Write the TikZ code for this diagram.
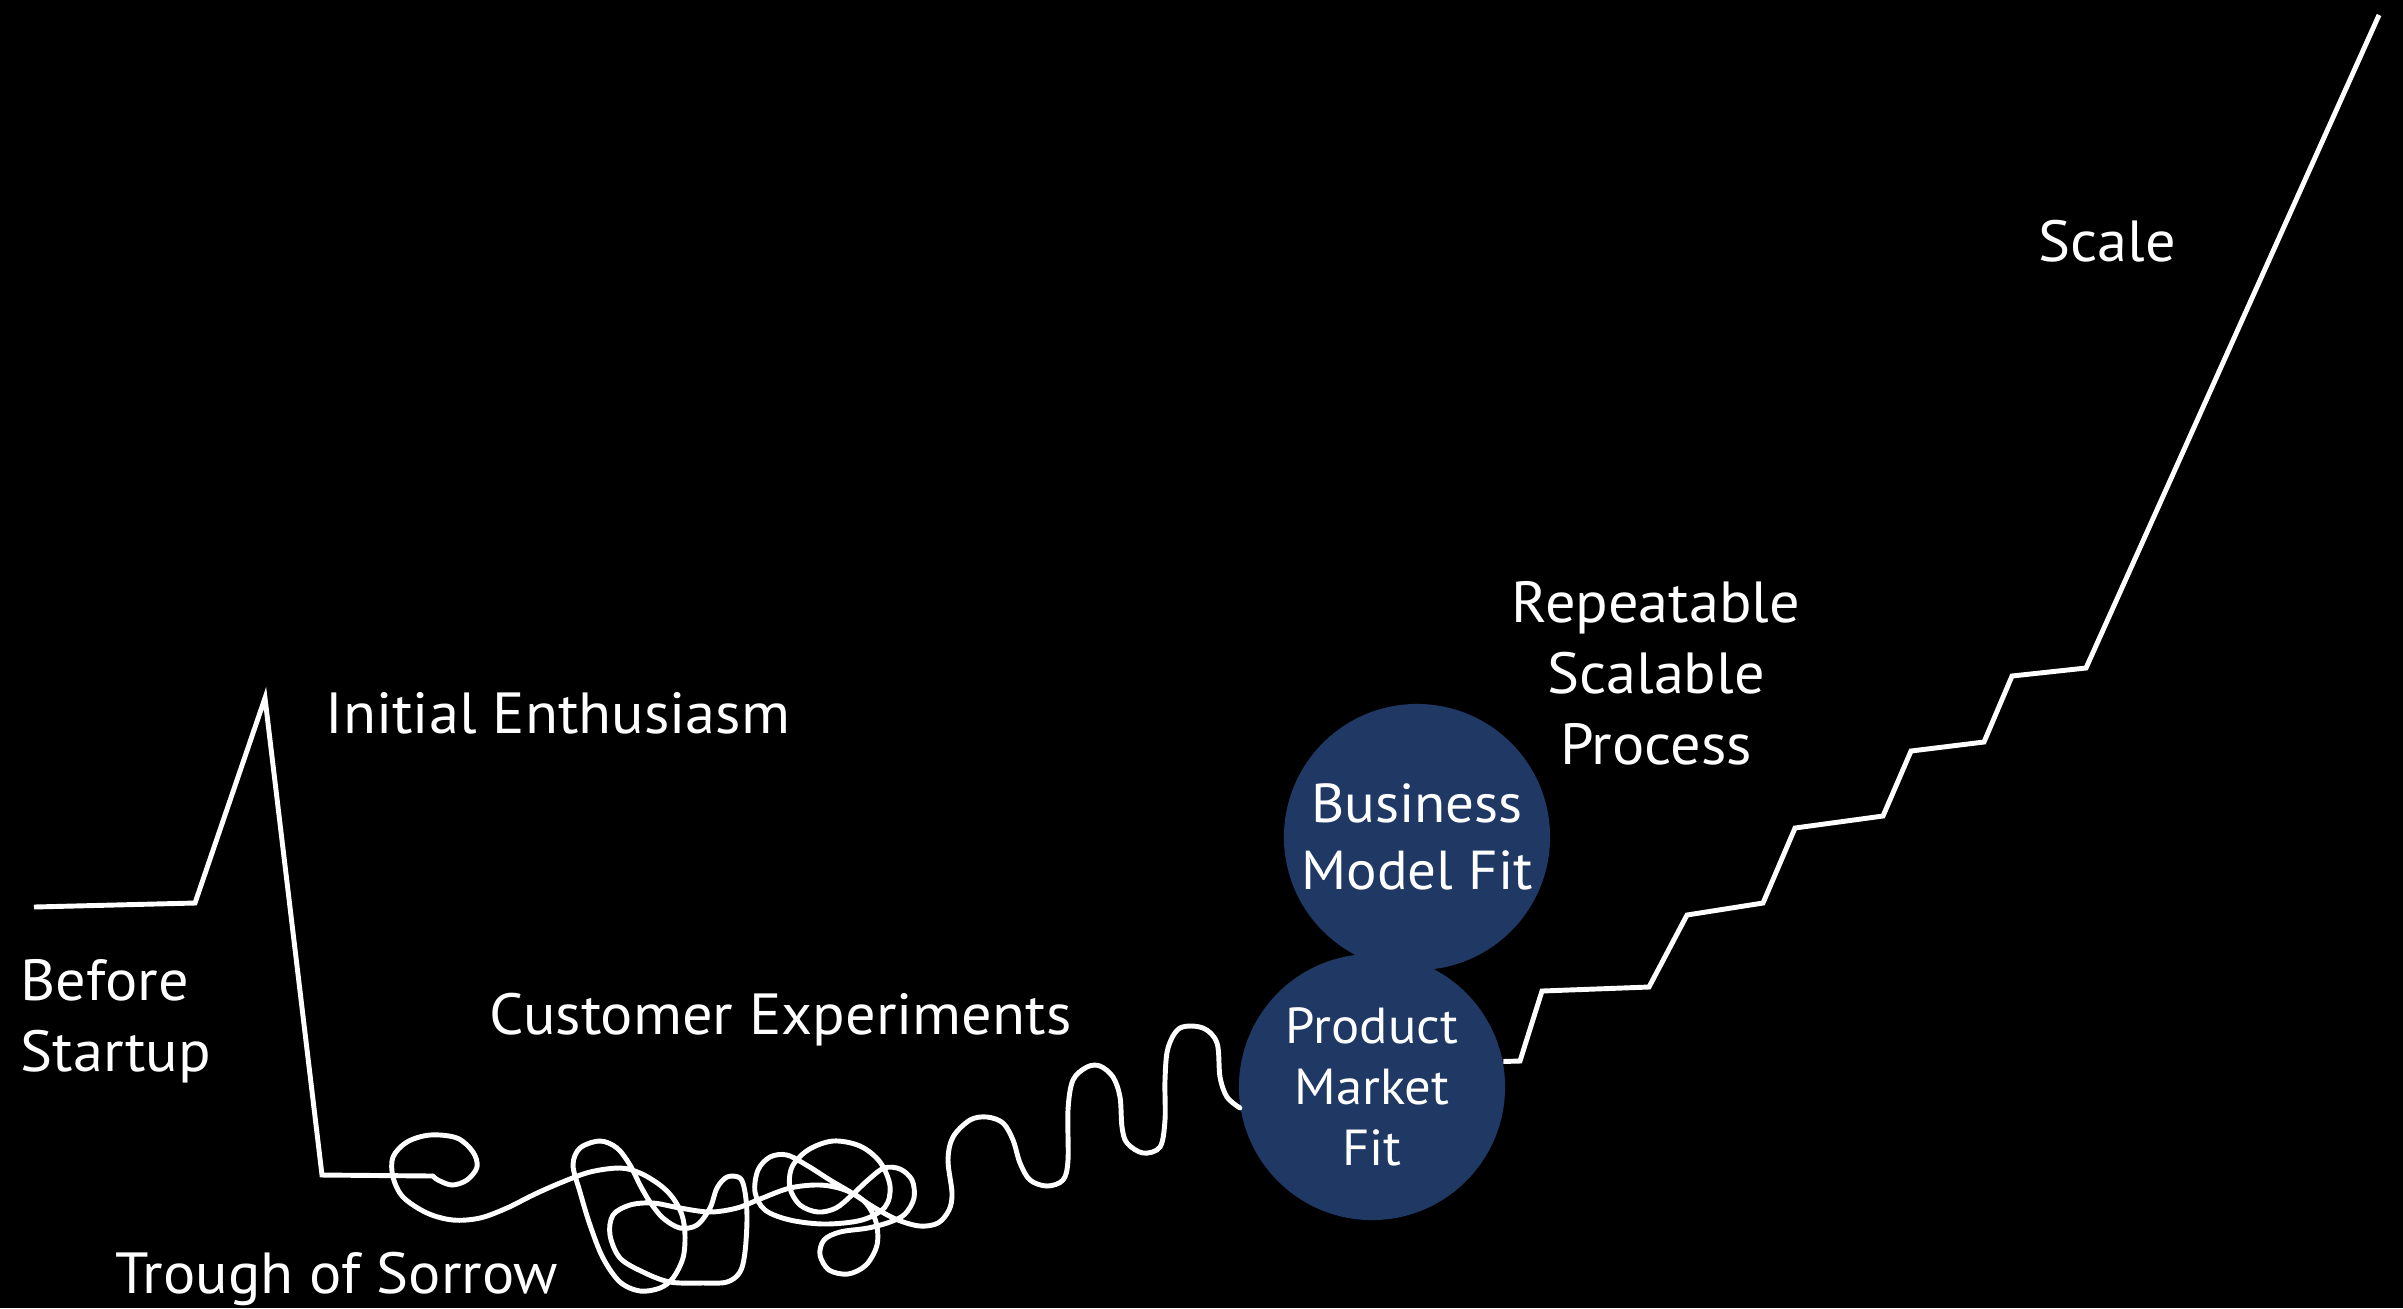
\documentclass[tikz,border=0pt]{standalone}
\usepackage{fontspec}
\setmainfont{PT Sans}[FakeStretch=1.04]
\definecolor{fitblue}{HTML}{203864}

\begin{document}
\begin{tikzpicture}[x=0.01cm, y=-0.01cm,
    curve/.style={draw=white, line width=1.4pt},
    lbl/.style={text=white, inner sep=0pt, font=\fontsize{16.5}{20.1}\selectfont},
    fitcircle/.style={circle, fill=fitblue, minimum size=2.66cm, inner sep=0pt, text=white, align=center}]
  \fill[black] (0,0) rectangle (2403,1308);

  % the two fit circles
  \node[fitcircle, font=\fontsize{15.6}{19}\selectfont] (bmf) at (1417,837) {Business\\Model Fit};
  \node[fitcircle, font=\fontsize{14.4}{17.4}\selectfont] (pmf) at (1372,1087) {Product\\Market\\Fit};

  % corners of the path
  \coordinate (origin) at (34,907);
  \coordinate (takeoff) at (195,903);
  \coordinate (peak) at (265,698);
  \coordinate (bottom) at (322,1175);
  \coordinate (curl) at (433,1176);
  \coordinate (top) at (2379,15);

  % before startup, enthusiasm, trough
  \draw[curve] (origin) -- (takeoff) -- (peak) -- (bottom) -- (curl);

  % customer experiments: the scribble
  \draw[curve, line cap=round] plot[smooth, tension=0.55] coordinates {
    (curl) (438,1180) (452,1185) (467,1180) (477,1167) (473,1152) (457,1138)
    (430,1135) (407,1142) (393,1157) (393,1177) (403,1197) (427,1213)
    (453,1220) (480,1218) (507,1208) (533,1195) (560,1183) (590,1172)
    (620,1168) (640,1173) (660,1185) (673,1198) (682,1215) (685,1235)
    (683,1258) (673,1278) (660,1288) (640,1291) (620,1282) (603,1258)
    (590,1225) (580,1192) (573,1165) (580,1148) (600,1141) (617,1148)
    (630,1165) (640,1185) (650,1202) (663,1218) (680,1228) (697,1225)
    (710,1208) (717,1188) (727,1177) (740,1178) (745,1192) (747,1218)
    (745,1252) (740,1272) (727,1282) (703,1283) (670,1282) (643,1272)
    (620,1258) (610,1235) (613,1215) (630,1205) (653,1203) (680,1208)
    (710,1212) (737,1208) (760,1199) (790,1188) (820,1185) (845,1190)
    (865,1202) (876,1222) (877,1245) (866,1265) (848,1274) (829,1270)
    (820,1255) (824,1240) (840,1232) (868,1228) (890,1222) (905,1214)
    (914,1198) (912,1180) (900,1169) (884,1168) (868,1180) (852,1195)
    (836,1208) (818,1212) (800,1205) (790,1188) (792,1167) (808,1150)
    (833,1141) (860,1146) (880,1162) (890,1186) (885,1207) (862,1220)
    (825,1224) (790,1220) (765,1210) (755,1192) (758,1170) (770,1157)
    (787,1155) (808,1166) (830,1180) (852,1193) (875,1208) (898,1220)
    (920,1226) (938,1223) (949,1210) (952,1193) (948,1160) (953,1137)
    (970,1120) (987,1117) (1003,1123) (1013,1140) (1020,1163) (1030,1180)
    (1047,1186) (1063,1180) (1068,1160) (1068,1110) (1073,1080) (1087,1067)
    (1100,1066) (1113,1077) (1120,1097) (1122,1127) (1127,1143) (1143,1153)
    (1160,1147) (1165,1120) (1165,1080) (1168,1048) (1180,1028) (1203,1028)
    (1217,1043) (1220,1077) (1227,1097) (pmf.189)};

  % repeatable process, then scale
  \draw[curve] (pmf.11) -- (1520,1061) -- (1542,991) -- (1649,987) -- (1687,915)
    -- (1763,903) -- (1795,828) -- (1883,816) -- (1911,751) -- (1984,742)
    -- (2012,676) -- (2086,668) -- (top);

  % labels
  \node[lbl, anchor=base west, align=left] (before) at (20,1071) {Before\\Startup};
  \node[lbl, anchor=base west] (initial) at (325,733) {Initial Enthusiasm};
  \node[lbl, anchor=base west] (customer) at (489,1034) {Customer Experiments};
  \node[lbl, anchor=base west] (trough) at (115,1293) {Trough of Sorrow};
  \node[lbl, anchor=base, align=center] (repeat) at (1656,764) {Repeatable\\Scalable\\Process};
  \node[lbl, anchor=base] (scale) at (2107,261) {Scale};
\end{tikzpicture}
\end{document}
